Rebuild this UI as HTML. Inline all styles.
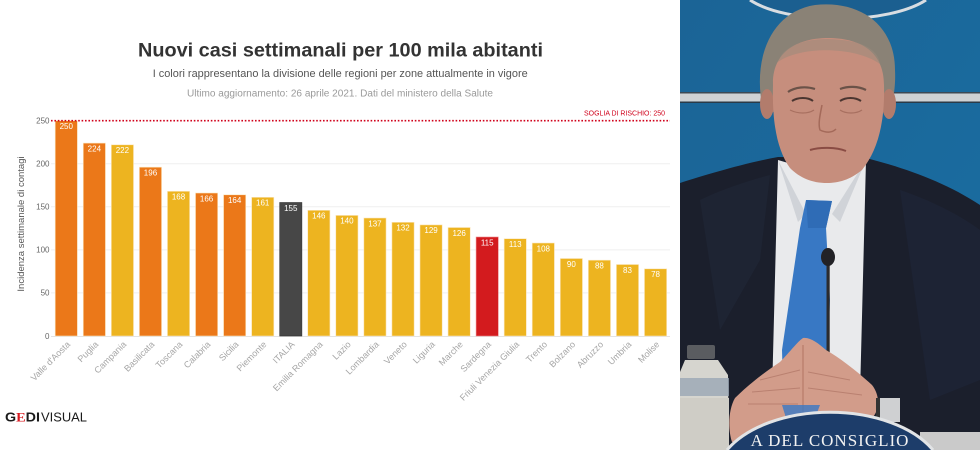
<!DOCTYPE html>
<html><head><meta charset="utf-8"><style>
html,body{margin:0;padding:0;background:#fff;width:980px;height:450px;overflow:hidden;}
svg{display:block;overflow:hidden;}
</style></head><body>
<svg width="980" height="450" viewBox="0 0 980 450" xmlns="http://www.w3.org/2000/svg" font-family="Liberation Sans, sans-serif">
<rect x="0" y="0" width="680" height="450" fill="#fff"/>
<!-- titles -->
<text x="138" y="56.5" font-size="19" font-weight="bold" fill="#333" textLength="405" lengthAdjust="spacingAndGlyphs">Nuovi casi settimanali per 100 mila abitanti</text>
<text x="152.7" y="77" font-size="11" fill="#555" textLength="375" lengthAdjust="spacingAndGlyphs">I colori rappresentano la divisione delle regioni per zone attualmente in vigore</text>
<text x="187" y="96.5" font-size="10" fill="#9a9a9a" textLength="306" lengthAdjust="spacingAndGlyphs">Ultimo aggiornamento: 26 aprile 2021. Dati del ministero della Salute</text>

<!-- gridlines -->
<g stroke="#efefef" stroke-width="1">
<line x1="51" y1="163.8" x2="670" y2="163.8"/>
<line x1="51" y1="206.8" x2="670" y2="206.8"/>
<line x1="51" y1="249.9" x2="670" y2="249.9"/>
<line x1="51" y1="292.9" x2="670" y2="292.9"/>
</g>
<line x1="51" y1="336.5" x2="670" y2="336.5" stroke="#e3e3e3" stroke-width="1"/>

<!-- y ticks -->
<g font-size="8" fill="#666" text-anchor="end">
<text x="49.5" y="123.5">250</text>
<text x="49.5" y="166.6">200</text>
<text x="49.5" y="209.6">150</text>
<text x="49.5" y="252.7">100</text>
<text x="49.5" y="295.7">50</text>
<text x="49.5" y="338.8">0</text>
</g>
<text transform="translate(24,224) rotate(-90)" font-size="9.5" fill="#555" text-anchor="middle">Incidenza settimanale di contagi</text>

<!-- bars -->
<g stroke="#fbe7c0" stroke-width="0.6">
<rect x="55.2" y="120.7" width="22.2" height="215.3" fill="#EB7819"/>
<rect x="83.26" y="143.1" width="22.2" height="192.9" fill="#EB7819"/>
<rect x="111.32" y="144.8" width="22.2" height="191.2" fill="#EDB420"/>
<rect x="139.38" y="167.2" width="22.2" height="168.8" fill="#EB7819"/>
<rect x="167.44" y="191.3" width="22.2" height="144.7" fill="#EDB420"/>
<rect x="195.5" y="193.0" width="22.2" height="143.0" fill="#EB7819"/>
<rect x="223.56" y="194.8" width="22.2" height="141.2" fill="#EB7819"/>
<rect x="251.62" y="197.3" width="22.2" height="138.7" fill="#EDB420"/>
<rect x="279.68" y="202.5" width="22.2" height="133.5" fill="#474747" stroke="#333"/>
<rect x="307.74" y="210.3" width="22.2" height="125.7" fill="#EDB420"/>
<rect x="335.8" y="215.4" width="22.2" height="120.6" fill="#EDB420"/>
<rect x="363.86" y="218.0" width="22.2" height="118.0" fill="#EDB420"/>
<rect x="391.92" y="222.3" width="22.2" height="113.7" fill="#EDB420"/>
<rect x="419.98" y="224.9" width="22.2" height="111.1" fill="#EDB420"/>
<rect x="448.04" y="227.5" width="22.2" height="108.5" fill="#EDB420"/>
<rect x="476.1" y="237.0" width="22.2" height="99.0" fill="#D31B1E" stroke="#e88"/>
<rect x="504.16" y="238.7" width="22.2" height="97.3" fill="#EDB420"/>
<rect x="532.22" y="243.0" width="22.2" height="93.0" fill="#EDB420"/>
<rect x="560.28" y="258.5" width="22.2" height="77.5" fill="#EDB420"/>
<rect x="588.34" y="260.2" width="22.2" height="75.8" fill="#EDB420"/>
<rect x="616.4" y="264.5" width="22.2" height="71.5" fill="#EDB420"/>
<rect x="644.46" y="268.8" width="22.2" height="67.2" fill="#EDB420"/>
</g>

<!-- bar labels -->
<g font-size="8" fill="#fff" text-anchor="middle">
<text x="66.3" y="128.8">250</text>
<text x="94.36" y="151.4">224</text>
<text x="122.42" y="153.1">222</text>
<text x="150.48" y="175.5">196</text>
<text x="178.54" y="199.6">168</text>
<text x="206.6" y="201.3">166</text>
<text x="234.66" y="203.1">164</text>
<text x="262.72" y="205.6">161</text>
<text x="290.78" y="210.8">155</text>
<text x="318.84" y="218.6">146</text>
<text x="346.9" y="223.7">140</text>
<text x="374.96" y="226.3">137</text>
<text x="403.02" y="230.6">132</text>
<text x="431.08" y="233.2">129</text>
<text x="459.14" y="235.8">126</text>
<text x="487.2" y="245.3">115</text>
<text x="515.26" y="247.0">113</text>
<text x="543.32" y="251.3">108</text>
<text x="571.38" y="266.8">90</text>
<text x="599.44" y="268.5">88</text>
<text x="627.5" y="272.8">83</text>
<text x="655.56" y="277.1">78</text>
</g>

<!-- threshold -->
<line x1="51" y1="120.7" x2="670" y2="120.7" stroke="#D0021B" stroke-width="1.6" stroke-dasharray="1.6,1.8"/>
<text x="665" y="115.3" font-size="7" fill="#D0021B" text-anchor="end" textLength="81" lengthAdjust="spacingAndGlyphs">SOGLIA DI RISCHIO: 250</text>

<!-- x labels -->
<g font-size="9" fill="#a6a6a6" text-anchor="end">
<text transform="translate(70.8,345) rotate(-45)">Valle d'Aosta</text>
<text transform="translate(98.9,345) rotate(-45)">Puglia</text>
<text transform="translate(126.9,345) rotate(-45)">Campania</text>
<text transform="translate(155,345) rotate(-45)">Basilicata</text>
<text transform="translate(183,345) rotate(-45)">Toscana</text>
<text transform="translate(211.1,345) rotate(-45)">Calabria</text>
<text transform="translate(239.2,345) rotate(-45)">Sicilia</text>
<text transform="translate(267.2,345) rotate(-45)">Piemonte</text>
<text transform="translate(295.3,345) rotate(-45)">ITALIA</text>
<text transform="translate(323.3,345) rotate(-45)">Emilia Romagna</text>
<text transform="translate(351.4,345) rotate(-45)">Lazio</text>
<text transform="translate(379.5,345) rotate(-45)">Lombardia</text>
<text transform="translate(407.5,345) rotate(-45)">Veneto</text>
<text transform="translate(435.6,345) rotate(-45)">Liguria</text>
<text transform="translate(463.6,345) rotate(-45)">Marche</text>
<text transform="translate(491.7,345) rotate(-45)">Sardegna</text>
<text transform="translate(519.8,345) rotate(-45)">Friuli Venezia Giulia</text>
<text transform="translate(547.8,345) rotate(-45)">Trento</text>
<text transform="translate(575.9,345) rotate(-45)">Bolzano</text>
<text transform="translate(603.9,345) rotate(-45)">Abruzzo</text>
<text transform="translate(632,345) rotate(-45)">Umbria</text>
<text transform="translate(660.1,345) rotate(-45)">Molise</text>
</g>

<!-- logo -->
<text x="5" y="421.5" font-size="12.5" font-weight="bold" fill="#1a1a1a" textLength="35" lengthAdjust="spacingAndGlyphs">G<tspan fill="#d7191f" font-family="Liberation Serif, serif">E</tspan>DI</text>
<text x="41" y="421.5" font-size="12.5" fill="#1a1a1a" textLength="46" lengthAdjust="spacingAndGlyphs">VISUAL</text>

<!-- photo -->
<defs>
<linearGradient id="bg" x1="0" y1="0" x2="1" y2="1">
<stop offset="0" stop-color="#1b6496"/>
<stop offset="1" stop-color="#1a6ea2"/>
</linearGradient>
</defs>
<g>
<rect x="680" y="0" width="300" height="450" fill="url(#bg)"/>
<!-- top emblem -->
<path d="M750,0 A100,36 0 0 0 926,0 Z" fill="#1b5f90"/>
<path d="M750,0 A100,36 0 0 0 926,0" fill="none" stroke="#d8dde2" stroke-width="3"/>
<!-- stripe -->
<rect x="680" y="92" width="300" height="11" fill="#cfd2d4"/>
<rect x="680" y="92" width="300" height="1.5" fill="#3d4a55"/>
<rect x="680" y="101.5" width="300" height="1.5" fill="#2a3a48"/>
<!-- suit -->
<path d="M680,183 C705,175 745,163 778,157 L866,158 C905,168 945,182 980,205 L980,450 L680,450 Z" fill="#1b1f2c"/>
<path d="M700,200 C720,190 750,180 770,175 L760,260 L720,330 Z" fill="#222838" opacity="0.6"/>
<path d="M900,190 C930,200 960,215 980,230 L980,380 L930,400 Z" fill="#20263a" opacity="0.6"/>
<!-- neck -->
<path d="M790,150 L866,150 L862,200 L795,200 Z" fill="#c08676"/>
<!-- shirt -->
<path d="M778,160 L805,168 L830,168 L866,160 L860,395 L772,395 Z" fill="#e9eaec"/>
<path d="M778,160 L806,214 L798,222 Z" fill="#d0d3d8"/>
<path d="M866,160 L832,214 L840,222 Z" fill="#d0d3d8"/>
<!-- tie -->
<path d="M806,200 L832,201 L826,228 L830,300 L828,350 L822,420 L784,420 L782,350 L800,228 Z" fill="#3878c4"/>
<path d="M806,200 L832,201 L826,228 L808,228 Z" fill="#2f6cb6"/>
<!-- hair -->
<path d="M763,110 C752,60 770,12 815,5 C860,0 895,25 895,70 C896,90 892,105 889,112 L770,112 Z" fill="#8a8276"/>
<!-- ears -->
<ellipse cx="767" cy="104" rx="7" ry="15" fill="#b27c6c"/>
<ellipse cx="889" cy="104" rx="7" ry="15" fill="#b27c6c"/>
<!-- face -->
<path d="M773,85 C772,50 800,38 828,38 C858,38 884,50 884,85 C885,122 878,150 862,170 C850,180 838,183 827,183 C812,183 800,178 790,168 C777,150 772,122 773,85 Z" fill="#c68e7d"/>
<path d="M778,62 C800,46 855,46 880,64 C878,48 860,40 828,39 C800,39 782,48 778,62 Z" fill="#9a8a7c" opacity="0.55"/>
<!-- eyebrows -->
<path d="M788,92 C795,87 806,86 815,89" stroke="#6a5248" stroke-width="2.2" fill="none"/>
<path d="M840,89 C848,86 858,86 866,90" stroke="#6a5248" stroke-width="2.2" fill="none"/>
<!-- eyes -->
<path d="M792,101 C798,97 808,97 813,101" stroke="#4a3530" stroke-width="2" fill="none"/>
<path d="M840,101 C846,97 855,97 861,101" stroke="#4a3530" stroke-width="2" fill="none"/>
<path d="M790,110 C798,114 808,114 814,110" stroke="#a87060" stroke-width="1.2" fill="none"/>
<path d="M840,110 C846,114 856,114 862,110" stroke="#a87060" stroke-width="1.2" fill="none"/>
<!-- nose -->
<path d="M822,105 C820,115 818,124 820,130 C826,133 832,133 836,129" stroke="#a46a5a" stroke-width="1.5" fill="none"/>
<!-- mouth -->
<path d="M810,150 C820,147 836,147 846,151" stroke="#8a4c44" stroke-width="2" fill="none"/>
<!-- mic -->
<rect x="826.5" y="262" width="3.2" height="155" fill="#2b2b2e"/>
<ellipse cx="828" cy="257" rx="7" ry="9" fill="#222226"/>
<!-- hands -->
<path d="M803,338 C797,342 790,352 780,362 C765,372 748,385 735,398 C728,410 728,430 732,442 L790,440 L803,420 L830,420 L872,418 C880,410 880,395 872,385 C858,372 840,358 826,350 C818,343 810,337 803,338 Z" fill="#d29c8a"/>
<path d="M803,345 L803,420" stroke="#b87a68" stroke-width="1.2"/>
<path d="M760,380 L800,370 M752,392 L800,388 M748,404 L798,404 M808,372 L850,380 M808,388 L862,395" stroke="#b98070" stroke-width="1" fill="none"/>
<path d="M782,405 L820,405 L815,418 L786,418 Z" fill="#3878c4" opacity="0.8"/>
<!-- cuff -->
<rect x="876" y="398" width="24" height="24" fill="#cfd0d2"/>
<rect x="876" y="398" width="4" height="22" fill="#333"/>
<!-- table right -->
<rect x="920" y="432" width="60" height="18" fill="#cacaca"/>
<!-- bottle -->
<rect x="687" y="345" width="28" height="14" rx="2" fill="#5a5c60"/>
<path d="M685,360 L718,360 L728,375 L729,450 L680,450 L680,372 Z" fill="#d6d5cf"/>
<rect x="680" y="378" width="49" height="18" fill="#9aa6b4" opacity="0.8"/>
<rect x="680" y="398" width="49" height="52" fill="#cfcdc6"/>
<!-- bottom emblem -->
<path d="M727,450 A115,68 0 0 1 933,450 Z" fill="#1d3d6a"/>
<path d="M727,450 A115,68 0 0 1 933,450" fill="none" stroke="#e2e4e6" stroke-width="3"/>
<text x="830" y="446" font-family="Liberation Serif, serif" font-size="17" fill="#f2f2f2" text-anchor="middle" letter-spacing="1">A DEL CONSIGLIO</text>
</g>
</svg>
</body></html>
